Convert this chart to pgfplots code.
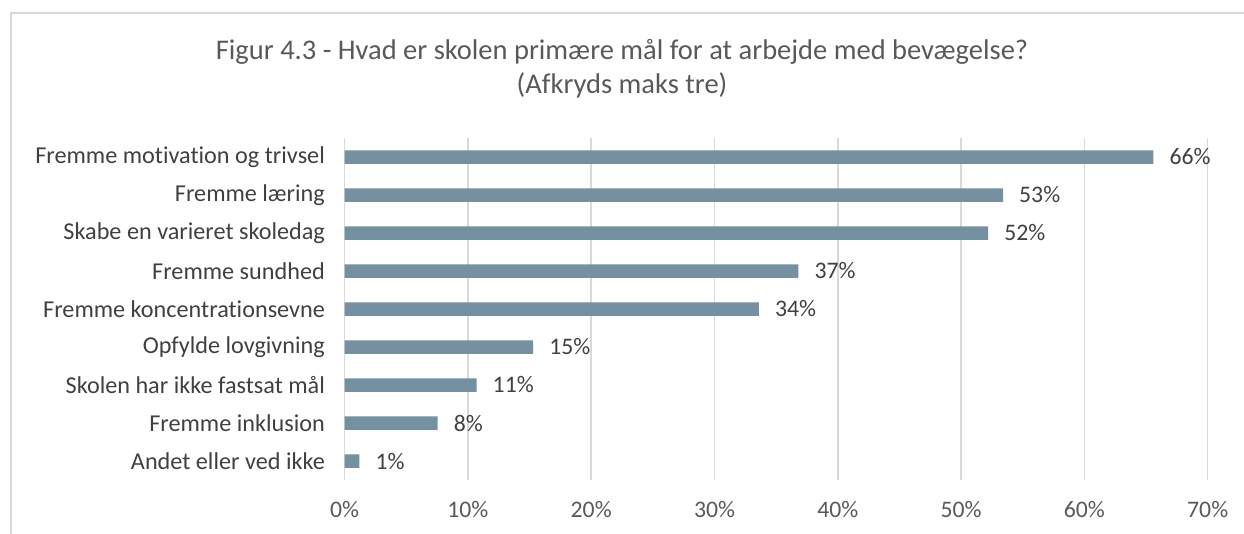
\documentclass[border=0pt]{standalone}
\usepackage{fontspec}
\setmainfont{Carlito}[Ligatures=NoCommon]
\usepackage{pgfplots}
\pgfplotsset{compat=1.18}
\definecolor{barcol}{RGB}{116,144,161}
\definecolor{gridcol}{RGB}{217,217,217}
\definecolor{txtdark}{RGB}{64,64,64}
\definecolor{txtgray}{RGB}{89,89,89}
\begin{document}
\begin{tikzpicture}
% chart frame (only top and left edges are inside the image)
\draw[gridcol, line width=2bp] (11bp,-534bp) -- (11bp,-13bp) -- (1244bp,-13bp);
\node[txtgray, font=\fontsize{28.6}{34}\selectfont, align=center] at (622bp,-69bp)
  {Figur 4.3 - Hvad er skolen primære mål for at arbejde med bevægelse?\\(Afkryds maks tre)};
\begin{axis}[
    at={(344.6bp,-480bp)}, anchor=south west,
    scale only axis,
    width=863.1bp, height=342bp,
    xbar, bar width=13.5bp,
    xmin=0, xmax=70,
    ymin=-0.5, ymax=8.5, y dir=reverse,
    xtick={0,10,...,70},
    xticklabels={0\%,10\%,20\%,30\%,40\%,50\%,60\%,70\%},
    ytick={0,...,8},
    yticklabels={Fremme motivation og trivsel, Fremme læring, Skabe en varieret skoledag,
      Fremme sundhed, Fremme koncentrationsevne, Opfylde lovgivning,
      Skolen har ikke fastsat mål, Fremme inklusion, Andet eller ved ikke},
    axis line style={draw=none},
    tick style={draw=none},
    xmajorgrids, grid style={gridcol, line width=1.5bp},
    x tick label style={txtgray, font=\fontsize{23.8}{28}\selectfont, yshift=-18bp},
    y tick label style={txtdark, font=\fontsize{24.3}{28}\selectfont, xshift=-12bp},
    /pgf/number format/assume math mode=true,
    nodes near coords={\pgfmathprintnumber[fixed,precision=0]{\pgfplotspointmeta}\%},
    nodes near coords style={txtdark, font=\fontsize{23.8}{28}\selectfont, anchor=west, inner sep=0pt, xshift=16bp},
    point meta=x,
]
\addplot[fill=barcol, draw=none] coordinates {
    (65.6,0) (53.4,1) (52.2,2) (36.8,3) (33.6,4) (15.3,5) (10.7,6) (7.55,7) (1.2,8)
};
\end{axis}
\pgfresetboundingbox
\path[use as bounding box] (0,0) rectangle (1244bp,-534bp);
\end{tikzpicture}
\end{document}
